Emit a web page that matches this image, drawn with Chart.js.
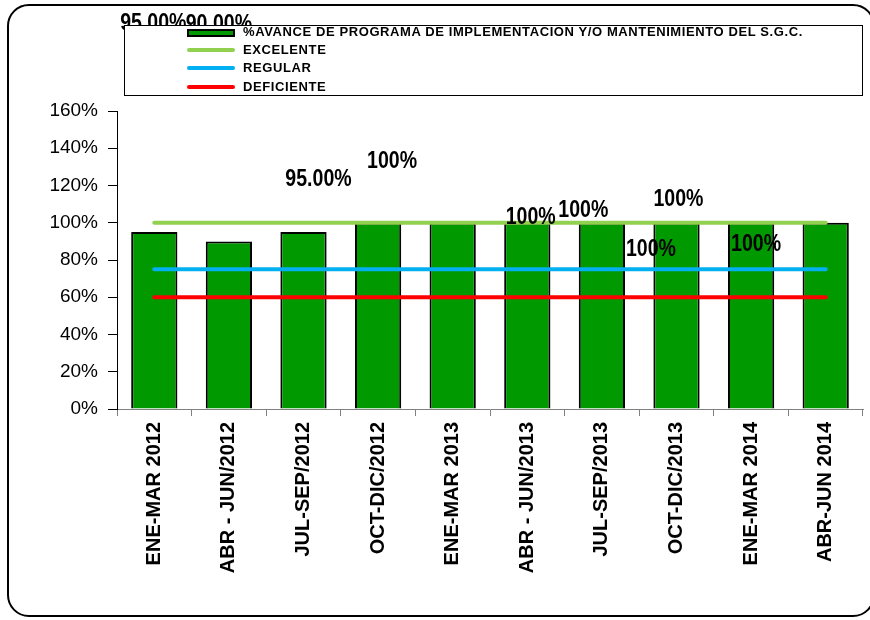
<!DOCTYPE html>
<html lang="es">
<head>
<meta charset="UTF-8">
<title>Avance de programa S.G.C.</title>
<script src="https://cdn.jsdelivr.net/npm/chart.js"></script>
<style>
    body { margin: 0; background: #fff; }
    #wrap { position: relative; width: 870px; height: 620px; overflow: hidden; }
    #marco {
        position: absolute; left: 7px; top: 4px; width: 868px; height: 613px;
        border: 2px solid #000; border-radius: 22px; box-sizing: border-box;
    }
    canvas { position: absolute; left: 0; top: 0; }
    #leyenda {
        position: absolute; left: 124px; top: 25px; width: 739px; height: 71px;
        border: 1px solid #000; background: #fff; box-sizing: border-box;
        font-family: "Liberation Sans", Arial, sans-serif; font-weight: bold;
        font-size: 13px; letter-spacing: 0.6px; color: #000;
    }
    .item { position: absolute; left: 62px; height: 18px; line-height: 18px; white-space: nowrap; }
    .item span.sw { position: absolute; left: 0; width: 48px; }
    .item span.tx { position: absolute; left: 56px; }
    .barra { top: 6px; height: 4px; background: #009900; border: 2px solid #000; width: 44px !important; }
    .linea { top: 7px; height: 4px; border-radius: 2px; }
</style>
</head>
<body>
<div id="wrap">
    <div id="marco"></div>
    <canvas id="grafico" width="870" height="620"></canvas>
    <div id="leyenda"></div>
</div>
<script>
const periodos = ['ENE-MAR 2012', 'ABR - JUN/2012', 'JUL-SEP/2012', 'OCT-DIC/2012', 'ENE-MAR 2013',
    'ABR - JUN/2013', 'JUL-SEP/2013', 'OCT-DIC/2013', 'ENE-MAR 2014', 'ABR-JUN 2014'];
const avance = [95, 90, 95, 100, 100, 100, 100, 100, 100, 100];
const excelente = [100, 100, 100, 100, 100, 100, 100, 100, 100, 100];
const regular = [75, 75, 75, 75, 75, 75, 75, 75, 75, 75];
const deficiente = [60, 60, 60, 60, 60, 60, 60, 60, 60, 60];
const etiquetas = ['95.00%', '90.00%', '95.00%', '100%', '100%', '100%', '100%', '100%', '100%', ''];
const yTicks = [0, 20, 40, 60, 80, 100, 120, 140, 160];

const NOMBRE_AVANCE = '%AVANCE DE PROGRAMA DE IMPLEMENTACION Y/O MANTENIMIENTO DEL S.G.C.';

// las etiquetas de datos estan movidas a mano en el original
const desplaz = [[-1, -208], [-10, -217], [15, -52], [14, -61], [78, -5], [56, -12], [49, 27], [2, -23], [5, 22], [0, 0]];

const fuente = '"Liberation Sans", Arial, sans-serif';

const etiquetasPlugin = {
    id: 'etiquetas',
    afterDatasetsDraw(chart) {
        const ctx = chart.ctx;
        const meta = chart.getDatasetMeta(0);
        meta.data.forEach((bar, i) => {
            if (!etiquetas[i]) return;
            ctx.save();
            ctx.translate(bar.x + desplaz[i][0], bar.y + desplaz[i][1]);
            ctx.scale(0.85, 1);  // letra estrecha como en el original
            ctx.font = 'bold 23px ' + fuente;
            ctx.fillStyle = '#000';
            ctx.textAlign = 'center';
            ctx.textBaseline = 'middle';
            ctx.fillText(etiquetas[i], 0, 0);
            ctx.restore();
        });
    }
};

const lineaDs = (label, data, color) => ({
    type: 'line', label: label, data: data, borderColor: color, backgroundColor: color,
    borderWidth: 4, pointRadius: 0, borderCapStyle: 'round', order: 1, tension: 0
});

const chart = new Chart(document.getElementById('grafico'), {
    type: 'bar',
    data: {
        labels: periodos,
        datasets: [
            {
                label: NOMBRE_AVANCE, data: avance, backgroundColor: '#009900',
                borderColor: '#000', borderWidth: 2, barPercentage: 0.62, categoryPercentage: 1, order: 2
            },
            lineaDs('EXCELENTE', excelente, '#92D050'),
            lineaDs('REGULAR', regular, '#00B0F0'),
            lineaDs('DEFICIENTE', deficiente, '#FF0000')
        ]
    },
    options: {
        responsive: false,
        animation: false,
        layout: { padding: { left: 0, top: 111, right: 7, bottom: 0 } },
        plugins: { legend: { display: false }, tooltip: { enabled: false } },
        scales: {
            x: {
                grid: { drawOnChartArea: false, color: '#808080', tickLength: 7 },
                border: { color: '#808080' },
                ticks: {
                    color: '#000', maxRotation: 90, minRotation: 90, padding: 6, autoSkip: false,
                    font: { family: fuente, size: 20, weight: 'bold' }
                },
                afterFit(s) { s.height = 211; }
            },
            y: {
                min: 0, max: 160,
                afterBuildTicks(s) { s.ticks = yTicks.map(v => ({ value: v })); },
                grid: { drawOnChartArea: false, color: '#000', tickLength: 9 },
                border: { color: '#000' },
                ticks: {
                    color: '#000', padding: 10,
                    font: { family: fuente, size: 19 },
                    callback: v => v + '%'
                },
                afterFit(s) { s.width = 117; }
            }
        }
    },
    plugins: [etiquetasPlugin]
});

// leyenda en html, sacada de los datasets
const ley = document.getElementById('leyenda');
chart.data.datasets.forEach((ds, i) => {
    const row = document.createElement('div');
    row.className = 'item';
    row.style.top = (-3 + i * 18.2) + 'px';
    const sw = document.createElement('span');
    if (ds.type === 'line') {
        sw.className = 'sw linea';
        sw.style.background = ds.borderColor;
    } else {
        sw.className = 'sw barra';
    }
    const tx = document.createElement('span');
    tx.className = 'tx';
    tx.textContent = ds.label;
    row.appendChild(sw);
    row.appendChild(tx);
    ley.appendChild(row);
});
</script>
</body>
</html>
